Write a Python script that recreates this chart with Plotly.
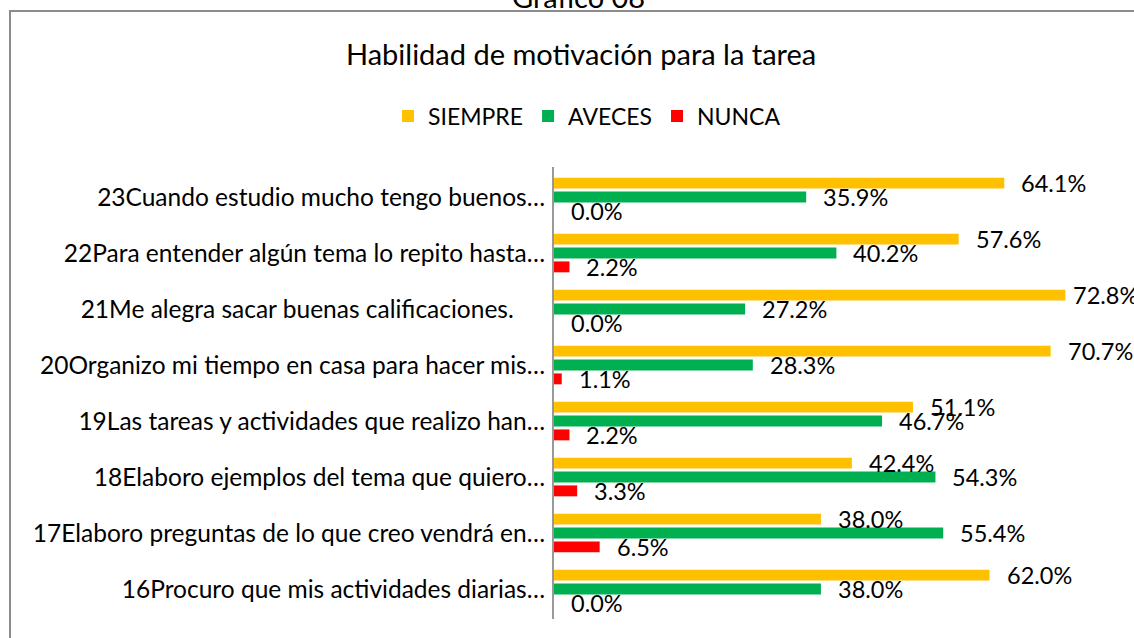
import plotly.graph_objects as go

# ---------------- data ----------------
categories = [
    "16Procuro que mis actividades diarias…",
    "17Elaboro preguntas de lo que creo vendrá en…",
    "18Elaboro ejemplos del tema que quiero…",
    "19Las tareas y actividades que realizo han…",
    "20Organizo mi tiempo en casa para hacer mis…",
    "21Me alegra sacar buenas calificaciones.\u00a0\u00a0\u00a0\u00a0\u00a0",
    "22Para entender algún tema lo repito hasta…",
    "23Cuando estudio mucho tengo buenos…",
]
siempre = [62.0, 38.0, 42.4, 51.1, 70.7, 72.8, 57.6, 64.1]
aveces = [38.0, 55.4, 54.3, 46.7, 28.3, 27.2, 40.2, 35.9]
nunca = [0.0, 6.5, 3.3, 2.2, 1.1, 0.0, 2.2, 0.0]

title_text = "Habilidad de motivación para la tarea"
caption_text = "Gráfico 08"

# ---------------- styles ----------------
W, H = 1134, 638
FONT = "Lato, Carlito, Calibri, sans-serif"
C_SIEMPRE, C_AVECES, C_NUNCA = "#FFC000", "#00B050", "#FF0000"
PLOT_L, PLOT_R, PLOT_T, PLOT_B = 554, 1116, 167, 619
SLOT_PX = 14          # pixel distance between bars in a group
LABEL_PAD = 15        # gap between bar end and its label
siempre_pad = [15, 15, 15, 15, 15, 6, 15, 15]

fig = go.Figure()
series = [
    ("NUNCA", nunca, C_NUNCA, -SLOT_PX, [LABEL_PAD] * len(nunca)),
    ("AVECES", aveces, C_AVECES, 0, [LABEL_PAD] * len(aveces)),
    ("SIEMPRE", siempre, C_SIEMPRE, SLOT_PX, siempre_pad),
]
for name, vals, col, _, _ in series:
    fig.add_trace(go.Bar(
        name=name, x=vals, y=categories, orientation="h",
        marker=dict(color=col, line=dict(width=0)),
        hoverinfo="skip",
    ))

annotations = []
for name, vals, col, yshift, pads in series:
    for cat, v, p in zip(categories, vals, pads):
        annotations.append(dict(
            x=v, y=cat, xref="x", yref="y", text=f"{v:.1f}%",
            showarrow=False, xanchor="left", yanchor="middle",
            xshift=p, yshift=yshift,
            font=dict(family=FONT, size=23.5, color="#000000"),
        ))

annotations.append(dict(
    x=581 / W, y=1 - 53 / H, xref="paper", yref="paper", text=title_text,
    showarrow=False, xanchor="center", yanchor="middle",
    font=dict(family=FONT, size=29, color="#000000"),
))
annotations.append(dict(
    x=578 / W, y=1 - 16 / H, xref="paper", yref="paper", text=caption_text,
    showarrow=False, xanchor="center", yanchor="bottom",
    font=dict(family=FONT, size=29, color="#000000"),
))

fig.update_layout(
    width=W, height=H,
    margin=dict(l=0, r=0, t=0, b=0),
    paper_bgcolor="white", plot_bgcolor="white",
    barmode="group", bargap=0.2566, bargroupgap=0.214,
    showlegend=True,
    legend=dict(
        orientation="h", traceorder="reversed",
        x=587 / W, xanchor="center", y=1 - 116 / H, yanchor="middle",
        font=dict(family=FONT, size=23, color="#000000"),
        itemclick=False, itemdoubleclick=False,
    ),
    xaxis=dict(
        domain=[PLOT_L / W, PLOT_R / W], range=[0, 80],
        showgrid=False, zeroline=False, showticklabels=False, showline=False,
        fixedrange=True,
    ),
    yaxis=dict(
        domain=[1 - PLOT_B / H, 1 - PLOT_T / H],
        showgrid=False, zeroline=False, showline=True,
        linecolor="#999999", linewidth=2, ticks="",
        ticklabelstandoff=2,
        tickfont=dict(family=FONT, size=24.5, color="#000000"),
        fixedrange=True,
    ),
    annotations=annotations,
    shapes=[dict(
        type="rect", xref="paper", yref="paper",
        x0=10 / W, x1=1.02, y0=-0.02, y1=1 - 11 / H,
        line=dict(color="#8C8C8C", width=2), fillcolor="rgba(0,0,0,0)",
        layer="below",
    )],
)

fig.write_html(
    "out.html",
    config={"displayModeBar": False},
    post_script="document.body.style.margin='0';document.body.style.overflow='hidden';",
)
